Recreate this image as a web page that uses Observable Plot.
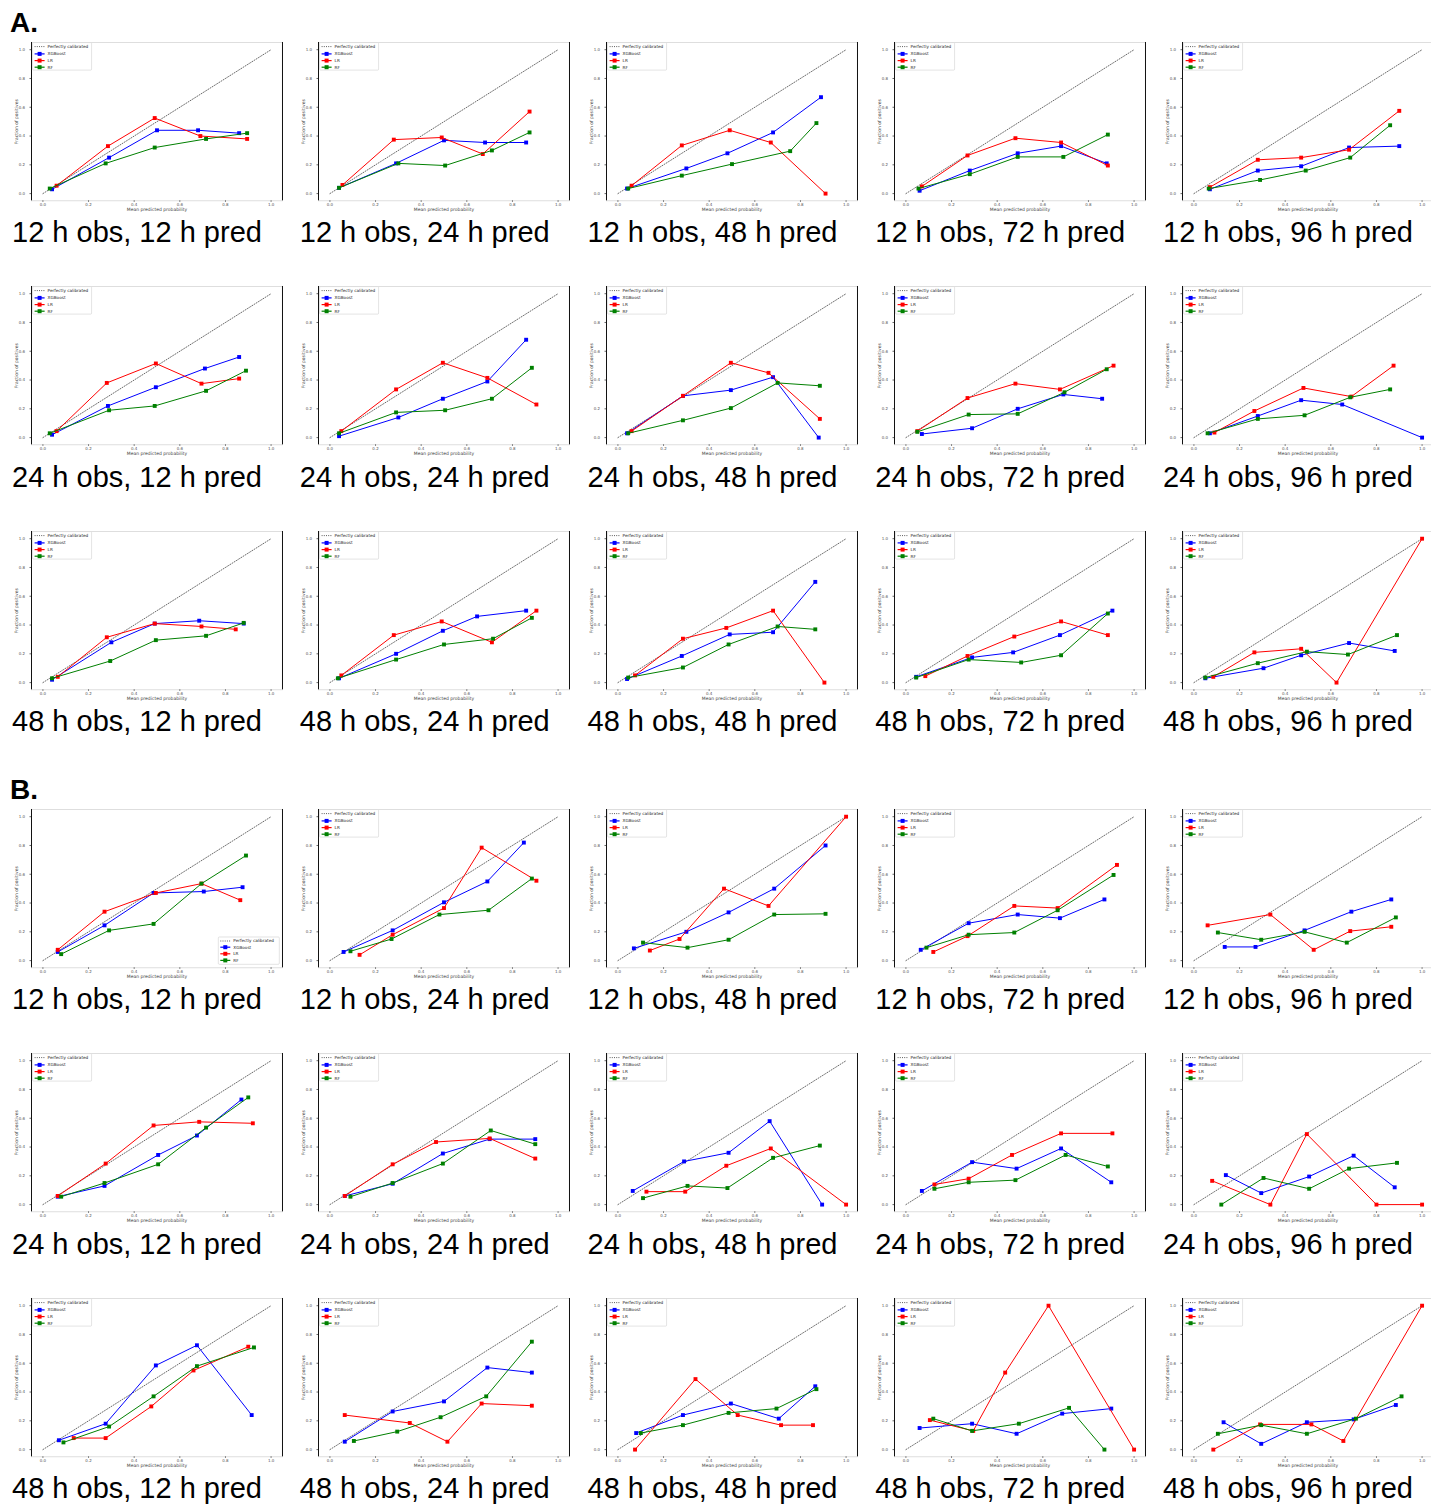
<!DOCTYPE html>
<html><head><meta charset="utf-8">
<script src="https://cdn.jsdelivr.net/npm/d3@7"></script>
<script src="https://cdn.jsdelivr.net/npm/@observablehq/plot@0.6"></script>
<style>
body{margin:0;background:#fff;}
#root{position:relative;width:1431px;height:1507px;overflow:hidden;background:#fff;}
</style></head><body><div id="root"></div>
<script>
// ---------- data ----------
const obsHours = [12, 24, 48];
const predHours = [12, 24, 48, 72, 96];
const sectionLabels = ["A.", "B."];
const modelNames = ["XGBoost", "LR", "RF"];
const modelColors = ["#0000ff", "#ff0000", "#008000"];
const refLabel = "Perfectly calibrated";
const xLabel = "Mean predicted probability";
const yLabel = "Fraction of positives";
const tickValues = [0, 0.2, 0.4, 0.6, 0.8, 1];
const diag = [0, 1];

// panels in order: obs 12 (pred 12..96), obs 24 (...), obs 48 (...)
const blueA = [
 [[.04,.03],[.29,.25],[.50,.44],[.68,.44],[.86,.42]],
 [[.04,.04],[.29,.21],[.50,.37],[.68,.355],[.86,.355]],
 [[.04,.035],[.30,.175],[.48,.28],[.68,.425],[.89,.67]],
 [[.06,.02],[.28,.16],[.49,.28],[.68,.33],[.88,.21]],
 [[.07,.03],[.28,.16],[.47,.19],[.68,.32],[.90,.33]],
 [[.04,.02],[.285,.22],[.495,.35],[.71,.48],[.86,.56]],
 [[.04,.01],[.30,.14],[.495,.27],[.69,.39],[.86,.68]],
 [[.04,.03],[.285,.29],[.495,.33],[.68,.42],[.88,0]],
 [[.07,.025],[.29,.065],[.49,.20],[.69,.30],[.86,.27]],
 [[.07,.03],[.28,.15],[.47,.26],[.65,.23],[1.0,0]],
 [[.04,.02],[.30,.28],[.49,.41],[.685,.43],[.88,.41]],
 [[.04,.03],[.29,.20],[.495,.36],[.645,.46],[.86,.50]],
 [[.04,.025],[.28,.185],[.49,.335],[.68,.35],[.865,.70]],
 [[.045,.04],[.29,.175],[.47,.21],[.675,.33],[.905,.50]],
 [[.05,.03],[.305,.10],[.47,.19],[.68,.275],[.88,.22]]
];
const redA = [
 [[.06,.055],[.285,.33],[.49,.525],[.69,.40],[.895,.38]],
 [[.055,.06],[.28,.375],[.49,.39],[.67,.275],[.875,.57]],
 [[.06,.055],[.28,.335],[.49,.44],[.67,.355],[.91,0]],
 [[.07,.05],[.27,.265],[.48,.385],[.68,.355],[.885,.195]],
 [[.07,.045],[.28,.235],[.47,.25],[.68,.305],[.90,.575]],
 [[.06,.045],[.28,.38],[.495,.515],[.695,.375],[.86,.41]],
 [[.05,.045],[.29,.335],[.495,.52],[.69,.415],[.905,.23]],
 [[.06,.045],[.285,.29],[.495,.52],[.66,.45],[.885,.13]],
 [[.05,.045],[.27,.275],[.48,.375],[.675,.335],[.91,.50]],
 [[.09,.035],[.265,.185],[.48,.345],[.69,.285],[.875,.50]],
 [[.065,.04],[.28,.315],[.49,.41],[.695,.39],[.845,.37]],
 [[.05,.05],[.28,.33],[.49,.425],[.71,.28],[.905,.50]],
 [[.075,.05],[.285,.305],[.475,.38],[.68,.50],[.905,0]],
 [[.085,.045],[.27,.185],[.475,.32],[.68,.425],[.885,.33]],
 [[.085,.04],[.265,.21],[.47,.235],[.625,0],[1.0,1.0]]
];
const greenA = [
 [[.03,.035],[.275,.21],[.49,.32],[.715,.38],[.895,.42]],
 [[.04,.04],[.30,.21],[.505,.195],[.71,.30],[.875,.425]],
 [[.045,.035],[.28,.125],[.50,.205],[.755,.295],[.87,.49]],
 [[.055,.035],[.28,.135],[.49,.255],[.69,.255],[.885,.41]],
 [[.065,.035],[.29,.095],[.49,.16],[.685,.25],[.86,.475]],
 [[.03,.03],[.29,.19],[.49,.22],[.715,.325],[.89,.465]],
 [[.04,.03],[.29,.175],[.505,.19],[.71,.27],[.885,.485]],
 [[.045,.03],[.285,.12],[.495,.205],[.70,.38],[.885,.36]],
 [[.05,.04],[.275,.16],[.49,.165],[.695,.315],[.88,.475]],
 [[.06,.03],[.28,.13],[.485,.155],[.685,.28],[.86,.335]],
 [[.04,.03],[.295,.15],[.495,.295],[.715,.325],[.88,.415]],
 [[.035,.03],[.29,.16],[.50,.265],[.715,.305],[.885,.45]],
 [[.045,.035],[.285,.105],[.485,.265],[.70,.39],[.865,.37]],
 [[.045,.035],[.275,.16],[.505,.14],[.68,.19],[.885,.48]],
 [[.05,.035],[.28,.135],[.495,.215],[.675,.195],[.89,.33]]
];
const blueB = [
 [[.065,.06],[.27,.245],[.485,.47],[.705,.48],[.875,.51]],
 [[.06,.06],[.275,.21],[.50,.405],[.69,.55],[.85,.82]],
 [[.07,.085],[.30,.20],[.485,.335],[.685,.50],[.91,.80]],
 [[.065,.075],[.275,.26],[.49,.32],[.675,.295],[.87,.425]],
 [[.135,.095],[.27,.095],[.485,.21],[.69,.34],[.865,.425]],
 [[.065,.055],[.27,.13],[.505,.345],[.675,.48],[.87,.73]],
 [[.065,.06],[.275,.145],[.495,.355],[.70,.455],[.90,.455]],
 [[.065,.095],[.29,.30],[.485,.36],[.665,.58],[.895,0]],
 [[.07,.095],[.29,.295],[.485,.25],[.68,.39],[.90,.155]],
 [[.14,.205],[.295,.08],[.505,.195],[.70,.34],[.88,.12]],
 [[.07,.065],[.275,.18],[.495,.585],[.675,.725],[.915,.24]],
 [[.065,.055],[.275,.265],[.50,.335],[.69,.57],[.885,.535]],
 [[.08,.115],[.285,.24],[.495,.32],[.705,.215],[.865,.44]],
 [[.06,.15],[.29,.18],[.485,.11],[.685,.25],[.90,.285]],
 [[.13,.19],[.295,.04],[.495,.19],[.70,.21],[.885,.31]]
];
const redB = [
 [[.065,.075],[.27,.34],[.495,.47],[.695,.535],[.865,.42]],
 [[.13,.04],[.275,.18],[.50,.365],[.665,.785],[.905,.555]],
 [[.14,.07],[.27,.15],[.465,.50],[.66,.38],[1.0,1.0]],
 [[.12,.06],[.27,.17],[.475,.38],[.665,.365],[.925,.665]],
 [[.06,.245],[.335,.32],[.525,.075],[.685,.205],[.865,.235]],
 [[.065,.06],[.275,.285],[.485,.55],[.685,.575],[.92,.565]],
 [[.065,.06],[.275,.28],[.465,.435],[.70,.46],[.90,.32]],
 [[.125,.09],[.295,.09],[.475,.27],[.67,.39],[1.0,0]],
 [[.125,.14],[.275,.18],[.465,.345],[.68,.495],[.905,.495]],
 [[.08,.165],[.335,0],[.495,.49],[.80,0],[1.0,0]],
 [[.135,.08],[.275,.08],[.475,.30],[.66,.55],[.90,.715]],
 [[.065,.24],[.35,.185],[.515,.055],[.665,.32],[.885,.305]],
 [[.075,0],[.34,.49],[.525,.24],[.715,.17],[.855,.17]],
 [[.105,.205],[.295,.13],[.435,.535],[.625,1.0],[1.0,0]],
 [[.085,0],[.29,.175],[.515,.175],[.655,.06],[1.0,1.0]]
];
const greenB = [
 [[.08,.045],[.29,.21],[.485,.255],[.695,.535],[.89,.73]],
 [[.09,.065],[.27,.15],[.48,.32],[.695,.35],[.885,.57]],
 [[.11,.125],[.305,.09],[.485,.145],[.685,.32],[.91,.325]],
 [[.09,.09],[.275,.18],[.475,.195],[.665,.35],[.91,.595]],
 [[.105,.195],[.295,.145],[.485,.20],[.67,.125],[.885,.30]],
 [[.08,.055],[.27,.15],[.505,.28],[.715,.535],[.90,.745]],
 [[.09,.055],[.275,.15],[.495,.285],[.705,.515],[.90,.42]],
 [[.11,.045],[.305,.13],[.48,.115],[.68,.325],[.885,.41]],
 [[.125,.11],[.275,.155],[.48,.17],[.70,.345],[.885,.265]],
 [[.12,0],[.305,.185],[.505,.11],[.68,.25],[.89,.29]],
 [[.09,.05],[.29,.16],[.485,.37],[.675,.58],[.925,.71]],
 [[.105,.06],[.295,.125],[.485,.225],[.685,.37],[.885,.75]],
 [[.10,.115],[.285,.17],[.485,.255],[.695,.285],[.87,.42]],
 [[.12,.215],[.29,.13],[.495,.18],[.715,.29],[.87,0]],
 [[.105,.11],[.295,.17],[.495,.11],[.71,.215],[.91,.37]]
];

// ---------- layout ----------
const W = 1431, H = 1507;
const colX0 = 30.7, colPitch = 287.75;
const sectionTop = [41.7, 808.7], rowPitch = 244.5;
const frameW = 251, frameH = 158.3;
const mL = 24, mR = 2, mT = 2, mB = 16;
const dom = [-0.05, 1.05];
const root = document.getElementById("root");
const sectionSeries = [[blueA, redA, greenA], [blueB, redB, greenB]];

function addLegend(svg, bx, by, bw, bh, rowsY) {
  const g = d3.select(svg).append("g")
    .attr("font-family", "DejaVu Sans, sans-serif").attr("font-size", 4.2).attr("text-anchor", "start");
  g.append("rect").attr("x", bx).attr("y", by).attr("width", bw).attr("height", bh)
    .attr("rx", 1).attr("fill", "#fff").attr("fill-opacity", 0.85).attr("stroke", "#d0d0d0").attr("stroke-width", 0.6);
  const labels = [refLabel, ...modelNames];
  labels.forEach((lab, i) => {
    const y = by + rowsY[i];
    if (i === 0) {
      g.append("line").attr("x1", bx + 2).attr("x2", bx + 12).attr("y1", y).attr("y2", y)
        .attr("stroke", "#333").attr("stroke-width", 0.8).attr("stroke-dasharray", "1 1.2");
    } else {
      const col = modelColors[i - 1];
      g.append("line").attr("x1", bx + 2).attr("x2", bx + 12).attr("y1", y).attr("y2", y)
        .attr("stroke", col).attr("stroke-width", 1.2);
      g.append("rect").attr("x", bx + 5).attr("y", y - 2).attr("width", 4).attr("height", 4).attr("fill", col);
    }
    g.append("text").attr("x", bx + 15).attr("y", y).attr("dy", "0.35em").attr("text-anchor", "start")
      .attr("fill", "#222").text(lab);
  });
}

function panel(sec, r, c) {
  const idx = r * 5 + c;
  const series = sectionSeries[sec].map(a => a[idx]);
  const frameLeft = colX0 + c * colPitch;
  const frameTop = sectionTop[sec] + r * rowPitch;
  const marks = [
    Plot.frame({stroke: "#d6d6d6", strokeWidth: 0.8}),
    Plot.ruleX(dom, {stroke: "#111", strokeWidth: 1}),
    Plot.axisX(tickValues, {tickFormat: d3.format(".1f"), tickSize: 1.5, tickPadding: 1, label: null, fontSize: 4, stroke: "#666", fill: "#555"}),
    Plot.axisY(tickValues, {tickFormat: d3.format(".1f"), tickSize: 1.5, tickPadding: 5, label: null, fontSize: 4, stroke: "#666", fill: "#555"}),
    Plot.text([xLabel], {frameAnchor: "bottom", dy: 10, text: d => d, fontSize: 4.5, fill: "#444"}),
    Plot.text([yLabel], {frameAnchor: "left", dx: -15, rotate: -90, textAnchor: "middle", text: d => d, fontSize: 4.5, fill: "#444"}),
    Plot.line(diag.map(v => [v, v]), {x: d => d[0], y: d => d[1], stroke: "#444", strokeWidth: 0.8, strokeDasharray: "1 1.6"})
  ];
  series.forEach((pts, i) => {
    marks.push(Plot.line(pts, {x: d => d[0], y: d => d[1], stroke: modelColors[i], strokeWidth: 1}));
    marks.push(Plot.dot(pts, {x: d => d[0], y: d => d[1], symbol: "square", r: 2.2, fill: modelColors[i], stroke: "none"}));
  });
  const svg = Plot.plot({
    width: frameW + mL + mR, height: frameH + mT + mB,
    marginLeft: mL, marginRight: mR, marginTop: mT, marginBottom: mB,
    x: {domain: dom}, y: {domain: dom},
    style: {fontSize: "4px", fontFamily: "DejaVu Sans, sans-serif", background: "transparent", overflow: "visible", color: "#333"},
    marks
  });
  svg.style.position = "absolute";
  svg.style.left = (frameLeft - mL) + "px";
  svg.style.top = (frameTop - mT) + "px";
  if (sec === 1 && r === 0 && c === 0) {
    addLegend(svg, mL + frameW - 2.7 - 61, mT + frameH - 3 - 27.3, 61, 27.3, [4, 10.2, 16.8, 23.4]);
  } else {
    addLegend(svg, mL + 1.6, mT + 0.6, 59, 27.5, [4, 11.3, 18, 24.6]);
  }
  root.appendChild(svg);
}

for (let s = 0; s < 2; s++)
  for (let r = 0; r < obsHours.length; r++)
    for (let c = 0; c < predHours.length; c++) panel(s, r, c);

// captions and section labels
const over = d3.select(root).append("svg").attr("width", W).attr("height", H)
  .style("position", "absolute").style("left", "0px").style("top", "0px").style("pointer-events", "none")
  .attr("font-family", "Liberation Sans, Arial, Helvetica, sans-serif").attr("text-anchor", "start");
sectionLabels.forEach((lab, s) => {
  over.append("text").attr("x", 10).attr("y", sectionTop[s] - 9.7).attr("font-size", 28).attr("font-weight", "bold").attr("fill", "#000").text(lab);
  obsHours.forEach((oh, r) => {
    predHours.forEach((ph, c) => {
      const frameLeft = colX0 + c * colPitch;
      const frameTop = sectionTop[s] + r * rowPitch;
      over.append("text").attr("x", frameLeft - 18.7).attr("y", frameTop + 200.5)
        .attr("font-size", 29).attr("fill", "#000").text(`${oh} h obs, ${ph} h pred`);
    });
  });
});
</script></body></html>
